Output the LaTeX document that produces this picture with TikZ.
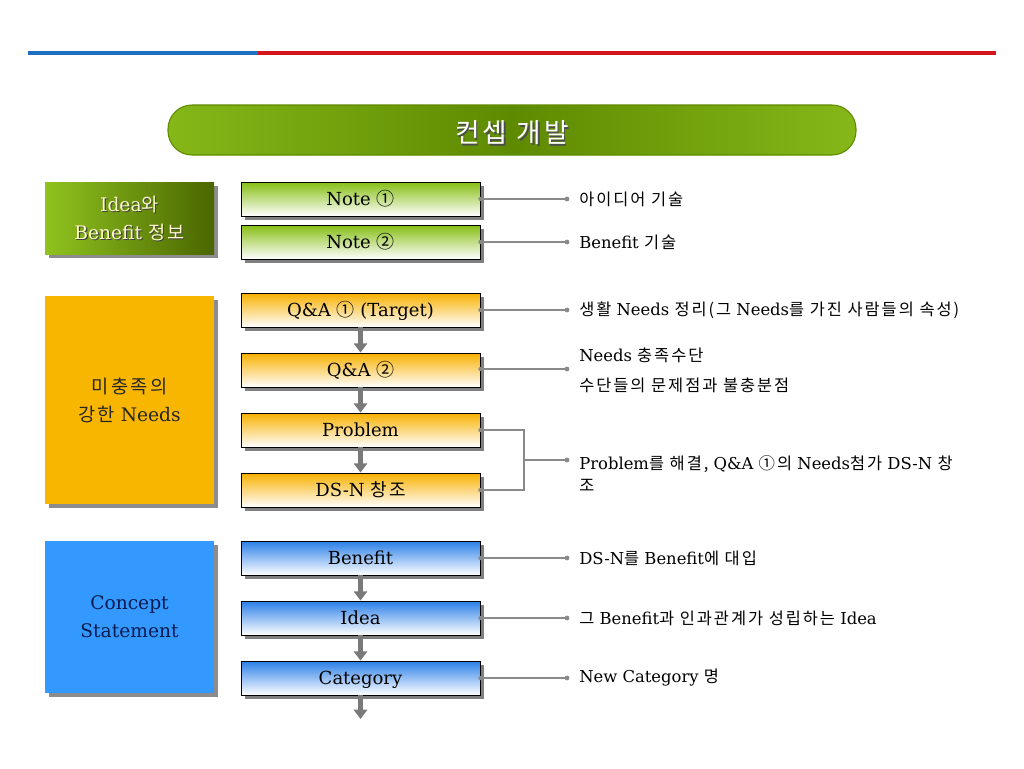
\documentclass[tikz,border=0pt]{standalone}
\usepackage{fontspec}
\setmainfont{DejaVu Serif}
\newfontfamily\kr[LetterSpace=12]{Noto Sans CJK KR}
\newcommand\krt[1]{{\kr #1}}
\usetikzlibrary{arrows.meta,shadows}
\definecolor{lineblue}{HTML}{1F6FC0}
\definecolor{linered}{HTML}{D4161C}
\definecolor{gLight}{HTML}{8FC31F}
\definecolor{gMid}{HTML}{5E8A00}
\definecolor{gDark}{HTML}{4B6600}
\definecolor{gTop}{HTML}{86BE14}
\definecolor{oBox}{HTML}{F8B600}
\definecolor{oTop}{HTML}{F7B000}
\definecolor{bBox}{HTML}{3399FF}
\definecolor{bTop}{HTML}{2A7FE8}
\definecolor{conngray}{HTML}{8A8A8A}
\definecolor{arrgray}{HTML}{7A7A7A}
\definecolor{navy}{HTML}{0A1A50}
\pgfdeclarehorizontalshading{pill}{100bp}{color(0bp)=(gLight); color(25bp)=(gLight!80!gMid); color(50bp)=(gMid); color(75bp)=(gLight!80!gMid); color(100bp)=(gLight)}
\begin{document}
\begin{tikzpicture}[x=0.75pt,y=-0.75pt,
  midbox/.style={draw=black, line width=0.6pt, minimum width=179.25pt, minimum height=25.5pt, inner sep=0pt,
    text height=11pt, text depth=2pt,
    font=\fontsize{13.5}{16}\selectfont,
    drop shadow={shadow xshift=3pt, shadow yshift=-3pt, fill=black!50, opacity=1}},
  greenmid/.style={midbox, top color=gTop, bottom color=white},
  orangemid/.style={midbox, top color=oTop, bottom color=white},
  bluemid/.style={midbox, top color=bTop, bottom color=white},
  leftbox/.style={minimum width=126.75pt, inner sep=0pt, align=center,
    font=\fontsize{14}{21}\selectfont,
    drop shadow={shadow xshift=3pt, shadow yshift=-3pt, fill=black!45, opacity=1}},
  lefttext/.style={inner sep=0pt, align=center, font=\fontsize{14}{21}\selectfont},
  conn/.style={draw=conngray, line width=1.1pt},
  dotc/.style={fill=conngray},
  flow/.style={draw=arrgray, line width=3.2pt, -{Triangle[length=7pt,width=10pt]}},
  lab/.style={anchor=west, inner sep=0pt, font=\fontsize{12.3}{16.5}\selectfont, align=left}
]
\useasboundingbox (0,0) rectangle (1024,768);
\fill[white] (0,0) rectangle (1024,768);

% top rule
\draw[lineblue, line width=2.4pt] (28,53) -- (258,53);
\draw[linered, line width=2.4pt] (258,53) -- (996,53);

% title banner
\node[draw=gMid, line width=0.8pt, rounded corners=18pt, minimum width=516pt, minimum height=37.5pt,
  shading=pill] (title) at (512,130) {};
\node[text=black!70, font=\kr\fontsize{20}{22}\selectfont] (titleshadow) at (513.5,134.5) {컨셉 개발};
\node[text=white, font=\kr\fontsize{20}{22}\selectfont] (titletext) at (512,133) {컨셉 개발};

% left boxes
\node[leftbox, minimum height=54pt, left color=gLight, right color=gDark] (gbox) at (129.5,218) {};
\node[lefttext, text=black!75] (gshadow) at (130.7,219.2) {Idea\krt{와}\\Benefit \krt{정보}};
\node[lefttext, text=yellow!20] (gtext) at (129.5,218) {Idea\krt{와}\\Benefit \krt{정보}};
\node[leftbox, minimum height=156pt, fill=oBox, text=black!85] (obox) at (129.5,400) {\krt{미충족의}\\\krt{강한} Needs};
\node[leftbox, minimum height=114pt, fill=bBox, text=navy] (bbox) at (129.5,617) {Concept\\Statement};

% middle boxes
\node[greenmid] (n1) at (360.5,199) {Note \krt{①}};
\node[greenmid] (n2) at (360.5,242) {Note \krt{②}};
\node[orangemid] (q1) at (360.5,310) {Q\&A \krt{①} (Target)};
\node[orangemid] (q2) at (360.5,370) {Q\&A \krt{②}};
\node[orangemid] (pr) at (360.5,430) {Problem};
\node[orangemid] (ds) at (360.5,490) {DS-N \krt{창조}};
\node[bluemid] (be) at (360.5,558) {Benefit};
\node[bluemid] (id) at (360.5,618) {Idea};
\node[bluemid] (ca) at (360.5,678) {Category};
\coordinate (endarrow) at (360.5,719);

% flow arrows
\draw[flow] (q1.south) -- (q2.north);
\draw[flow] (q2.south) -- (pr.north);
\draw[flow] (pr.south) -- (ds.north);
\draw[flow] (be.south) -- (id.north);
\draw[flow] (id.south) -- (ca.north);
\draw[flow] (ca.south) -- (endarrow);

% connector end points
\coordinate (d1) at (567,199);
\coordinate (d2) at (567,242);
\coordinate (d3) at (567,310);
\coordinate (d4) at (567,369);
\coordinate (j1) at (524,430);
\coordinate (j2) at (524,490);
\coordinate (jm) at (524,460);
\coordinate (d5) at (567,460);
\coordinate (d6) at (567,558);
\coordinate (d7) at (567,618);
\coordinate (d8) at (567,678);

\draw[conn] (n1.east) -- (d1);
\draw[conn] (n2.east) -- (d2);
\draw[conn] (q1.east) -- (d3);
\draw[conn] (q2.east |- d4) -- (d4);
\draw[conn] (pr.east) -- (j1) -- (j2) -- (ds.east);
\draw[conn] (jm) -- (d5);
\draw[conn] (be.east) -- (d6);
\draw[conn] (id.east) -- (d7);
\draw[conn] (ca.east) -- (d8);
\foreach \p in {d1,d2,d3,d4,d5,d6,d7,d8}{\fill[dotc] (\p) circle (1.8pt);}
\foreach \p in {n1,n2,q1,pr,ds,be,id,ca}{\fill[dotc] (\p.east) circle (1.6pt);}
\fill[dotc] (q2.east |- d4) circle (1.6pt);

% labels
\node[lab] (l1) at (579,199) {\krt{아이디어 기술}};
\node[lab] (l2) at (579,242) {Benefit \krt{기술}};
\node[lab] (l3) at (579,310) {\krt{생활} Needs \krt{정리(그} Needs\krt{를 가진 사람들의 속성)}};
\node[lab] (l4a) at (579,355) {Needs \krt{충족수단}};
\node[lab] (l4b) at (579,385) {\krt{수단들의 문제점과 불충분점}};
\node[lab] (l5) at (579,474) {Problem\krt{를 해결,} Q\&A \krt{①의} Needs\krt{첨가} DS-N \krt{창}\\\krt{조}};
\node[lab] (l6) at (579,558) {DS-N\krt{를} Benefit\krt{에 대입}};
\node[lab] (l7) at (579,618) {\krt{그} Benefit\krt{과 인과관계가 성립하는} Idea};
\node[lab] (l8) at (579,678) {New Category \krt{명}};
\end{tikzpicture}
\end{document}
